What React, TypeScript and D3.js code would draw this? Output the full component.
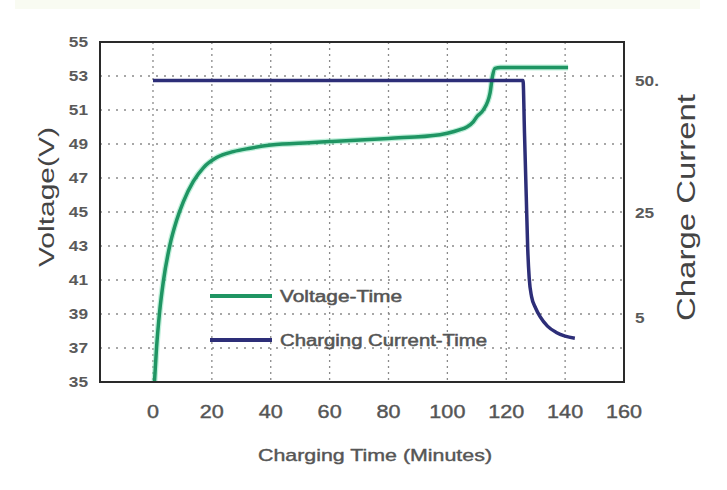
import React from "react";
import * as d3 from "d3";

const voltageTime = [0.5, 1.2, 2.3, 3.5, 5.8, 8, 10.3, 13.7, 17.1, 21.6, 27.3, 33, 40, 53, 60, 80, 97.5, 100, 104.3, 106.6, 108.8, 110, 112.2, 114.5, 115.3, 116.2, 118, 141];
const voltageValues = [35, 37, 39.2, 40.9, 43.1, 44.5, 45.6, 46.8, 47.6, 48.2, 48.55, 48.75, 48.94, 49.08, 49.14, 49.33, 49.55, 49.63, 49.84, 50.0, 50.3, 50.6, 51.0, 52.0, 52.96, 53.45, 53.5, 53.5];

const currentTime = [0, 125.7, 126.2, 126.8, 127.3, 127.8, 128.6, 130, 131.5, 134, 137, 140, 143.3];
const currentValues = [50, 50, 40, 28, 18, 12.5, 9, 6.8, 5.2, 3.4, 2.2, 1.5, 1.1];

const xTicks = [0, 20, 40, 60, 80, 100, 120, 140, 160];
const xGrid = [0, 20, 40, 60, 80, 100, 120, 140];
const yLeftTicks = [35, 37, 39, 41, 43, 45, 47, 49, 51, 53, 55];
const yGrid = [37, 39, 41, 43, 45, 47, 49, 51, 53];
const yRightTicks = [50, 25, 5];
const yRightLabels = ["50.", "25", "5"];

const legendLabels = ["Voltage-Time", "Charging Current-Time"];
const legendLengths = [122, 207];
const xTitle = "Charging Time (Minutes)";
const yLeftTitle = "Voltage(V)";
const yRightTitle = "Charge Current";

const GREEN = "#1f9563";
const BLUE = "#2d2e78";
const FONT = "'Liberation Sans', Arial, sans-serif";

export default function App() {
  const left = 100, right = 624, top = 42, bottom = 382;
  const x = d3.scaleLinear().domain([-18, 160]).range([left, right]);
  const yV = d3.scaleLinear().domain([35, 55]).range([bottom, top]);
  const yC = d3.scaleLinear().domain([-7.2, 57.3]).range([bottom, top]);

  const vLine = d3
    .line<number>()
    .x((_, i) => x(voltageTime[i]))
    .y((d) => yV(d))
    .curve(d3.curveMonotoneX);
  const cLine = d3
    .line<number>()
    .x((_, i) => x(currentTime[i]))
    .y((d) => yC(d))
    .curve(d3.curveMonotoneX);

  return (
    <svg width={727} height={490} style={{ position: "absolute", left: 0, top: 0, background: "#fff" }}>
      <rect x={15} y={0} width={685} height={9} fill="#f9fbf2" />
      <defs>
        <clipPath id="plotclip">
          <rect x={left} y={top} width={right - left} height={bottom - top} />
        </clipPath>
      </defs>
      {yGrid.map((v) => (
        <line key={"h" + v} x1={left} x2={right} y1={yV(v)} y2={yV(v)} stroke="#8a8a8a" strokeWidth={1.3} strokeDasharray="2,6" />
      ))}
      {xGrid.map((v) => (
        <line key={"v" + v} x1={x(v)} x2={x(v)} y1={top} y2={bottom} stroke="#8a8a8a" strokeWidth={1.3} strokeDasharray="2,4" />
      ))}
      <g clipPath="url(#plotclip)">
        <path d={vLine(voltageValues) || ""} fill="none" stroke="#7fe0b5" strokeWidth={6} strokeOpacity={0.5} />
        <path d={vLine(voltageValues) || ""} fill="none" stroke={GREEN} strokeWidth={3.5} />
        <path d={cLine(currentValues) || ""} fill="none" stroke={BLUE} strokeWidth={3.5} />
      </g>
      <rect x={left} y={top} width={right - left} height={bottom - top} fill="none" stroke="#2a2a2a" strokeWidth={2} />
      {yLeftTicks.map((v) => (
        <text key={"yl" + v} transform={`translate(88,${yV(v)}) scale(1.15,1)`} dy="0.35em" textAnchor="end" fontFamily={FONT} fontSize={15} fontWeight="bold" fill="#5a5a5a">
          {v}
        </text>
      ))}
      {xTicks.map((v) => (
        <text key={"x" + v} transform={`translate(${x(v)},412) scale(1.2,1)`} dy="0.35em" textAnchor="middle" fontFamily={FONT} fontSize={18} fill="#555" stroke="#555" strokeWidth={0.4}>
          {v}
        </text>
      ))}
      {yRightTicks.map((v, i) => (
        <text key={"yr" + v} transform={`translate(635,${yC(v)}) scale(1.15,1)`} dy="0.35em" textAnchor="start" fontFamily={FONT} fontSize={15} fontWeight="bold" fill="#5a5a5a">
          {yRightLabels[i]}
        </text>
      ))}
      <text x={258} y={455} dy="0.35em" textLength={234} lengthAdjust="spacingAndGlyphs" fontFamily={FONT} fontSize={17} fill="#555" stroke="#555" strokeWidth={0.4}>
        {xTitle}
      </text>
      <text transform="translate(46,197) rotate(-90)" x={-70} dy="0.35em" textLength={140} lengthAdjust="spacingAndGlyphs" fontFamily={FONT} fontSize={22} fill="#444">
        {yLeftTitle}
      </text>
      <text transform="translate(686,208) rotate(-90)" x={-113} dy="0.35em" textLength={227} lengthAdjust="spacingAndGlyphs" fontFamily={FONT} fontSize={25} fill="#444">
        {yRightTitle}
      </text>
      {legendLabels.map((l, i) => (
        <g key={l} transform={`translate(210,${296 + i * 44})`}>
          <line x1={0} x2={62} y1={0} y2={0} stroke={i === 0 ? GREEN : BLUE} strokeWidth={4} />
          <text x={70} y={0} dy="0.35em" textLength={legendLengths[i]} lengthAdjust="spacingAndGlyphs" fontFamily={FONT} fontSize={16} fill="#555" stroke="#555" strokeWidth={0.5}>
            {l}
          </text>
        </g>
      ))}
    </svg>
  );
}
